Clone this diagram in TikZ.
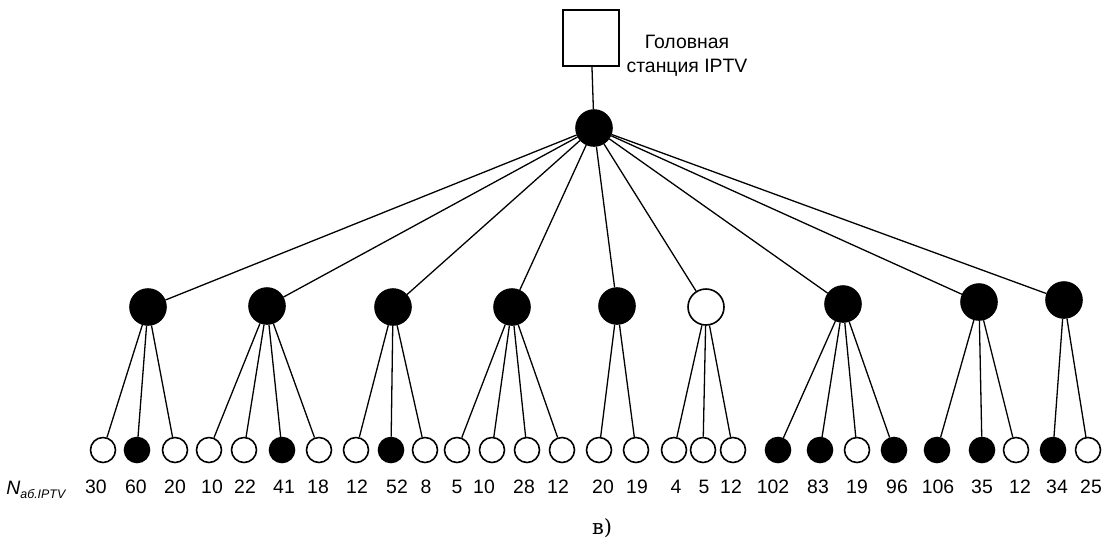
\documentclass[tikz,border=0pt]{standalone}
\usepackage{fontspec}
\setmainfont{Liberation Sans}
\newfontfamily\captfont{DejaVu Serif}
\begin{document}
\begin{tikzpicture}[x=0.5pt,y=-0.5pt,
  every node/.style={font=\fontsize{9.7}{12}\selectfont},
  hub/.style={circle,draw,line width=0.8pt,minimum size=18pt,inner sep=0pt},
  leaf/.style={circle,draw,line width=0.8pt,minimum size=12.5pt,inner sep=0pt},
  link/.style={line width=0.65pt}]
\useasboundingbox (0,0) rectangle (1107,538);
\node[draw,line width=0.8pt,minimum size=28pt,inner sep=0pt] (head) at (591,38) {};
\node[align=center] (headtxt) at (687,56) {Головная\\станция IPTV};
\node[hub,fill=black] (root) at (594,128) {};
\draw[link] (head) -- (root);
% second level
\foreach \n/\x/\y/\f in {m1/148/307/black, m2/267/306/black, m3/393/307/black,
  m4/512/307/black, m5/617/306/black, m6/706/307/white, m7/843/304/black,
  m8/979/302/black, m9/1064/300/black}
{
  \node[hub,fill=\f] (\n) at (\x,\y) {};
  \draw[link] (root) -- (\n);
}
% leaves: name/x/fill/parent/text x/number
\foreach \n/\x/\f/\p/\t/\v in {l1/103/white/m1/96/30, l2/137/black/m1/136/60,
  l3/175/white/m1/175/20, l4/209/white/m2/212/10, l5/244/white/m2/245/22,
  l6/282/black/m2/284/41, l7/319/white/m2/318/18, l8/356/white/m3/357/12,
  l9/391/black/m3/397/52, l10/425/white/m3/426/8, l11/457/white/m4/457/5,
  l12/492/white/m4/484/10, l13/527/white/m4/524/28, l14/562/white/m4/558/12,
  l15/599/white/m5/603/20, l16/636/white/m5/637/19, l17/674/white/m6/676/4,
  l18/703/white/m6/704/5, l19/733/white/m6/731/12, l20/778/black/m7/773/102,
  l21/820/black/m7/818/83, l22/857/white/m7/857/19, l23/894/black/m7/897/96,
  l24/937/black/m8/938/106, l25/982/black/m8/982/35, l26/1016/white/m8/1020/12,
  l27/1053/black/m9/1057/34, l28/1088/white/m9/1091/25}
{
  \node[leaf,fill=\f] (\n) at (\x,450) {};
  \draw[link] (\p) -- (\n);
  \node[anchor=base] (v\n) at (\t,493) {\v};
}
\node[anchor=base west,inner sep=0pt] (nlabel) at (6,494)
  {\textit{N}\raisebox{-2pt}{\fontsize{6.2}{7}\selectfont\itshape аб.IPTV}};
\node[anchor=base,font=\captfont\fontsize{10.5}{12}\selectfont] (caption) at (602,534) {в)};
\end{tikzpicture}
\end{document}
